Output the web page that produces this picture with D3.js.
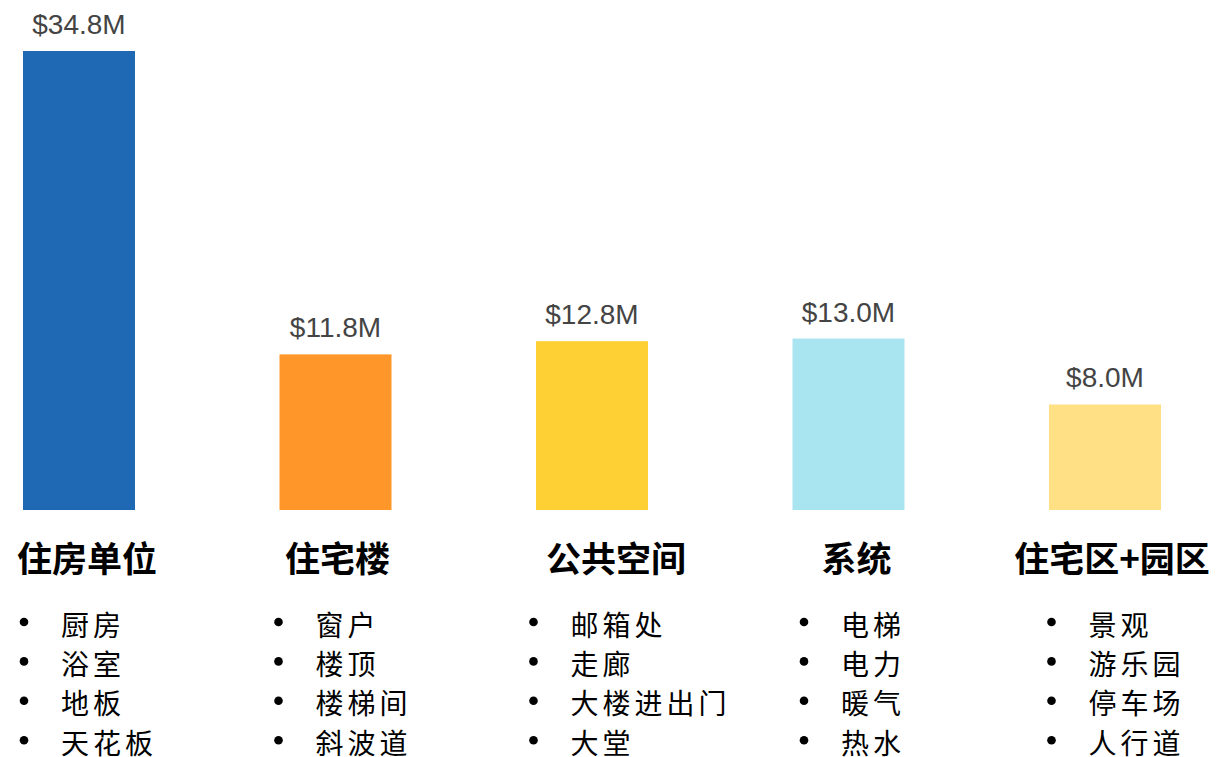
<!DOCTYPE html>
<html>
<head>
<meta charset="utf-8">
<script src="https://cdn.jsdelivr.net/npm/d3@7"></script>
<style>
  html, body { margin: 0; padding: 0; background: #fff; }
  svg { display: block; }
</style>
</head>
<body>
<svg id="chart" width="1217" height="757"></svg>
<script>
// Spending by area (millions of USD)
const categories = ["住房单位", "住宅楼", "公共空间", "系统", "住宅区+园区"];
const values = [34.8, 11.8, 12.8, 13.0, 8.0];
const valueLabels = ["$34.8M", "$11.8M", "$12.8M", "$13.0M", "$8.0M"];
const items = [
  ["厨房", "浴室", "地板", "天花板"],
  ["窗户", "楼顶", "楼梯间", "斜波道"],
  ["邮箱处", "走廊", "大楼进出门", "大堂"],
  ["电梯", "电力", "暖气", "热水"],
  ["景观", "游乐园", "停车场", "人行道"]
];
const colors = ["#1f69b4", "#ff9629", "#ffd033", "#a9e5f0", "#ffe085"];

// Layout
const plotBottom = 510, plotTop = 51;
const labelNudge = [8, 2, 24, 8, 7];       // horizontal offset of group titles
const listNudge = [1, -1, -2.5, 11.5, 2.5]; // horizontal offset of bullet lists

const svg = d3.select("#chart");

const x = d3.scaleBand()
  .domain(categories)
  .range([23, 1161])
  .paddingInner(1 - 112 / 256.5)
  .paddingOuter(0);

const y = d3.scaleLinear()
  .domain([0, d3.max(values)])
  .range([plotBottom, plotTop]);

const data = categories.map((c, i) => ({ c, v: values[i], label: valueLabels[i], items: items[i], color: colors[i], i }));

// Bars
svg.append("g").selectAll("rect")
  .data(data)
  .join("rect")
  .attr("x", d => x(d.c))
  .attr("y", d => y(d.v))
  .attr("width", x.bandwidth())
  .attr("height", d => plotBottom - y(d.v))
  .attr("fill", d => d.color);

// Value labels
svg.append("g").selectAll("text")
  .data(data)
  .join("text")
  .attr("x", d => x(d.c) + x.bandwidth() / 2)
  .attr("y", d => y(d.v) - 17)
  .attr("text-anchor", "middle")
  .attr("font-family", "'Liberation Sans', Arial, sans-serif")
  .attr("font-size", 28)
  .attr("fill", "#444")
  .text(d => d.label);

// Group titles
svg.append("g").selectAll("text")
  .data(data)
  .join("text")
  .attr("x", d => x(d.c) + x.bandwidth() / 2 + labelNudge[d.i])
  .attr("y", 556)
  .attr("text-anchor", "middle")
  .attr("dominant-baseline", "central")
  .attr("font-family", "'Noto Sans CJK SC', sans-serif")
  .attr("font-weight", "bold")
  .attr("font-size", 35)
  .attr("fill", "#000")
  .text(d => d.c);

// Bullet lists
const lists = svg.append("g").selectAll("g")
  .data(data)
  .join("g")
  .attr("transform", d => `translate(${x(d.c) + listNudge[d.i]},0)`);

const rows = lists.selectAll("g")
  .data(d => d.items)
  .join("g")
  .attr("transform", (d, j) => `translate(0,${623.5 + j * 39.4})`);

rows.append("circle")
  .attr("cx", 0)
  .attr("cy", -1.5)
  .attr("r", 4.3)
  .attr("fill", "#000");

rows.append("text")
  .attr("x", 37)
  .attr("y", 0)
  .attr("dominant-baseline", "central")
  .attr("font-family", "'Noto Sans CJK SC', sans-serif")
  .attr("font-size", 28)
  .attr("letter-spacing", 4)
  .attr("fill", "#000")
  .text(d => d);
</script>
</body>
</html>
